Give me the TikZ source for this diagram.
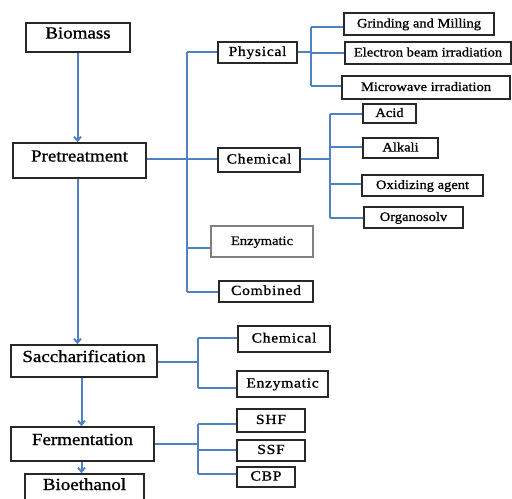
\documentclass[tikz,border=0pt]{standalone}
\usepackage{fontspec}
\setmainfont{Liberation Serif}[FakeStretch=1.12,FakeBold=1.0]
\newfontfamily\spacedfont{Liberation Serif}[FakeStretch=1.12,LetterSpace=5,FakeBold=1.0]
\usetikzlibrary{arrows.meta}
\definecolor{lineblue}{RGB}{80,130,195}
\definecolor{boxgray}{RGB}{40,40,40}
\definecolor{enzgray}{RGB}{128,128,128}
\begin{document}
\begin{tikzpicture}[x=1bp,y=-1bp,
  box/.style={draw=boxgray,line width=1.7bp,inner sep=0pt,fill=white},
  big/.style={box,font=\fontsize{17}{20}\selectfont,text height=12pt,text depth=10pt},
  mid/.style={box,font=\spacedfont\fontsize{14}{16}\selectfont,text height=9.5pt,text depth=2.5pt},
  small/.style={box,font=\fontsize{13}{15}\selectfont,text height=9pt,text depth=2pt},
  conn/.style={draw=lineblue,line width=2bp},
  arr/.style={conn,-{Straight Barb[length=4pt,width=7pt]}}]
\useasboundingbox (0,0) rectangle (512,499);
% main column
\node[big,minimum width=104bp,minimum height=29bp] (bio) at (78,37.5) {Biomass};
\node[big,minimum width=133bp,minimum height=35bp] (pre) at (79.5,160.5) {Pretreatment};
\node[big,minimum width=146bp,minimum height=32bp] (sac) at (84,361) {Saccharification};
\node[big,minimum width=143bp,minimum height=34bp] (ferm) at (82.5,444) {Fermentation};
\node[big,minimum width=119bp,minimum height=30bp] (bioe) at (84.5,489) {Bioethanol};
% pretreatment types
\node[mid,minimum width=79bp,minimum height=21bp] (phys) at (257.5,52.5) {Physical};
\node[mid,minimum width=82bp,minimum height=24bp] (chem) at (259,160) {Chemical};
\node[box,draw=enzgray,line width=2.6bp,font=\fontsize{13}{15}\selectfont,text height=9pt,text depth=2pt,minimum width=102bp,minimum height=31bp] (enz) at (262,241.5) {Enzymatic};
\node[mid,minimum width=94bp,minimum height=21bp] (comb) at (266,291.5) {Combined};
% physical
\node[small,minimum width=150bp,minimum height=22bp] (grind) at (419,24) {Grinding and Milling};
\node[small,minimum width=166bp,minimum height=22bp] (elec) at (428,53) {Electron beam irradiation};
\node[small,minimum width=168bp,minimum height=23bp] (micro) at (426,87.5) {Microwave irradiation};
% chemical
\node[small,minimum width=53bp,minimum height=19bp] (acid) at (389.5,113.5) {Acid};
\node[small,minimum width=75bp,minimum height=20bp] (alk) at (400.5,148) {Alkali};
\node[small,minimum width=121bp,minimum height=21bp] (oxi) at (422.5,185.5) {Oxidizing agent};
\node[small,minimum width=99bp,minimum height=21bp] (org) at (413.5,217.5) {Organosolv};
% saccharification
\node[mid,minimum width=92bp,minimum height=26bp] (chem2) at (284,339) {Chemical};
\node[mid,minimum width=91bp,minimum height=26bp] (enz2) at (282.5,384) {Enzymatic};
% fermentation
\node[mid,minimum width=68bp,minimum height=23bp] (shf) at (271,420.5) {SHF};
\node[mid,minimum width=68bp,minimum height=21bp] (ssf) at (271,450.5) {SSF};
\node[mid,minimum width=58bp,minimum height=20bp] (cbp) at (266,477) {CBP};
% spine coordinates
\coordinate (s1) at (186.5,0);
\coordinate (s2) at (310.5,0);
\coordinate (s3) at (329.5,0);
\coordinate (s4) at (197.5,0);
% arrows down the main column
\draw[arr] ([xshift=-0.5bp]bio.south) -- ([xshift=-0.5bp]bio.south |- pre.north);
\draw[arr] ([xshift=-2bp]pre.south) -- ([xshift=-2bp]pre.south |- sac.north);
\draw[arr] ([xshift=-1bp]ferm.north |- sac.south) -- ([xshift=-1bp]ferm.north);
\draw[arr] ([xshift=-1bp]ferm.south) -- ([xshift=-1bp]ferm.south |- bioe.north);
% pretreatment tree
\draw[conn] ([yshift=1bp]pre.east) -- ([yshift=1bp]pre.east -| s1);
\draw[conn] (phys.west -| s1) -- (comb.west -| s1);
\draw[conn] (phys.west) -- (phys.west -| s1);
\draw[conn] ([yshift=0.5bp]chem.west) -- ([yshift=0.5bp]chem.west -| s1);
\draw[conn] ([yshift=-6bp]enz.west) -- ([yshift=-6bp]enz.west -| s1);
\draw[conn] (comb.west) -- (comb.west -| s1);
% physical tree
\draw[conn] (phys.east) -- (phys.east -| s2);
\draw[conn] ([yshift=-3.5bp]grind.west -| s2) -- ([yshift=1bp]micro.west -| s2);
\draw[conn] ([yshift=-3.5bp]grind.west) -- ([yshift=-3.5bp]grind.west -| s2);
\draw[conn] ([yshift=-0.5bp]elec.west) -- ([yshift=-0.5bp]elec.west -| s2);
\draw[conn] ([yshift=1bp]micro.west) -- ([yshift=1bp]micro.west -| s2);
% chemical tree
\draw[conn] ([yshift=0.5bp]chem.east) -- ([yshift=0.5bp]chem.east -| s3);
\draw[conn] ([yshift=-1bp]acid.west -| s3) -- (org.west -| s3);
\draw[conn] ([yshift=-1bp]acid.west) -- ([yshift=-1bp]acid.west -| s3);
\draw[conn] ([yshift=0.5bp]alk.west) -- ([yshift=0.5bp]alk.west -| s3);
\draw[conn] ([yshift=1bp]oxi.west) -- ([yshift=1bp]oxi.west -| s3);
\draw[conn] (org.west) -- (org.west -| s3);
% saccharification tree
\draw[conn] ([yshift=-0.5bp]sac.east) -- ([yshift=-0.5bp]sac.east -| s4);
\draw[conn] ([yshift=1.5bp]chem2.west -| s4) -- ([yshift=-3.5bp]enz2.west -| s4);
\draw[conn] ([yshift=1.5bp]chem2.west) -- ([yshift=1.5bp]chem2.west -| s4);
\draw[conn] ([yshift=-3.5bp]enz2.west) -- ([yshift=-3.5bp]enz2.west -| s4);
% fermentation tree
\draw[conn] ([yshift=0.5bp]ferm.east) -- ([yshift=0.5bp]ferm.east -| s4);
\draw[conn] ([yshift=-3bp]shf.west -| s4) -- ([yshift=3.5bp]cbp.west -| s4);
\draw[conn] ([yshift=-3bp]shf.west) -- ([yshift=-3bp]shf.west -| s4);
\draw[conn] ([yshift=1bp]ssf.west) -- ([yshift=1bp]ssf.west -| s4);
\draw[conn] ([yshift=3.5bp]cbp.west) -- ([yshift=3.5bp]cbp.west -| s4);
\end{tikzpicture}
\end{document}
